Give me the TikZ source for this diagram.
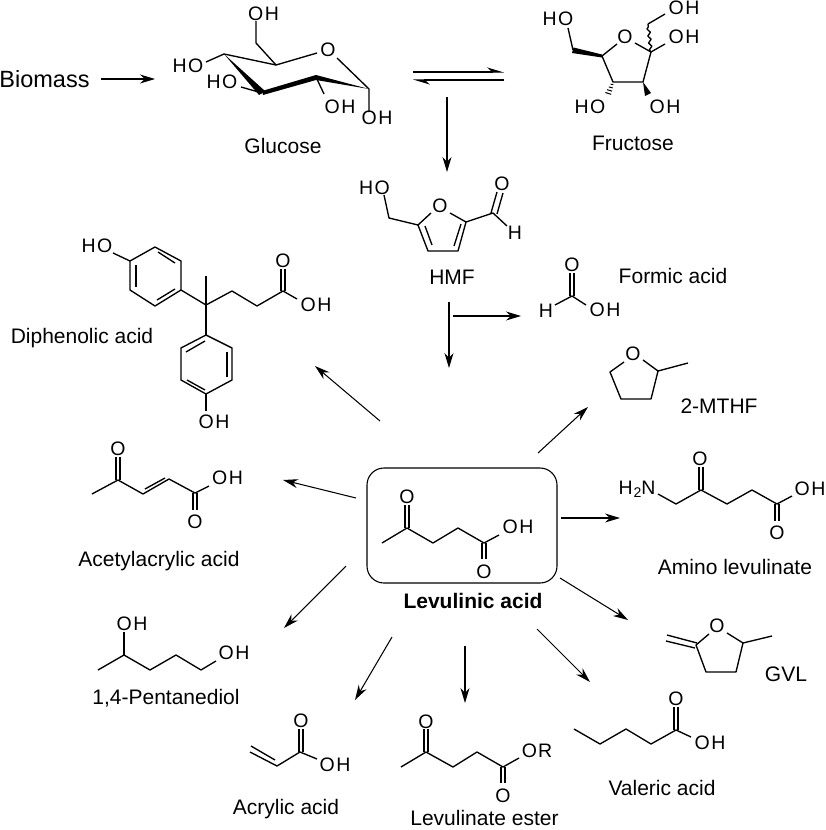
\documentclass[tikz,border=0pt]{standalone}
\usepackage{fontspec}
\setmainfont{Liberation Sans}
\usetikzlibrary{arrows.meta,calc,decorations.pathmorphing}
\newcommand{\OHlab}{O\kern1.5pt H}
\newcommand{\HOlab}{H\kern1.5pt O}
\tikzset{
  bond/.style={line width=1.35pt,line join=round},
  rxn/.style={-{Stealth[length=15pt,width=9pt]},line width=1.05pt},
  eqm/.style={-{Stealth[left,length=15pt,width=9pt]},line width=1.05pt},
  atom/.style={font=\fontsize{19.5}{20}\selectfont,inner sep=0pt},
  title/.style={font=\fontsize{21}{22}\selectfont,inner sep=0pt},
}
\begin{document}
\begin{tikzpicture}[x=1pt,y=-1pt]
  \useasboundingbox (0,0) rectangle (825,830);
  % glucose
  \draw[bond] (256,21) -- (256,43) -- (276,65) -- (317,53);
  \draw[bond] (337,58) -- (369,89) -- (369,112);
  \draw[bond] (206,62) -- (224,54) -- (276,65);
  \draw[bond] (241,87) -- (262,93);
  \draw[bond] (316,77) -- (324,94);
  \fill (224,54) -- (265,91) -- (259,95) -- cycle;
  \fill (262,91) -- (316,75) -- (316,80) -- (263,95) -- cycle;
  \fill (316,75) -- (369,89) -- (316,80) -- cycle;
  \node[atom] (gluO) at (328,50) {O};
  \node[atom] (gluOHa) at (263.5,14) {\OHlab};
  \node[atom] (gluOHb) at (377,118) {\OHlab};
  \node[atom] (gluOHc) at (340,107) {\OHlab};
  \node[atom] (gluHOa) at (188,66) {\HOlab};
  \node[atom] (gluHOb) at (222,82) {\HOlab};
  \node[title] (glucose) at (283,146) {Glucose};
  % fructose
  \draw[bond] (568,28) -- (573,50);
  \fill (602,54.5) -- (573.5,47.5) -- (572,53) -- (602,57.5) -- cycle;
  \draw[bond] (617,44) -- (602,56) -- (613,82) -- (643,82) -- (651,52) -- (635,43);
  \draw[bond] (651,52) -- (665,44);
  \draw[bond,decorate,decoration={snake,amplitude=1.5pt,segment length=7pt}] (651,52) -- (648,24);
  \draw[bond] (648,24) -- (665,14);
  \fill (643,82) -- (651,93) -- (645,96) -- cycle;
  \foreach \t in {0.2,0.45,0.7,0.95} {
    \draw[line width=1pt] ($(613,82)!\t!(608,94)+(-1-2*\t,-1*\t)$) -- ($(613,82)!\t!(608,94)+(1+2*\t,1*\t)$);
  }
  \node[atom] (fruO) at (625,37) {O};
  \node[atom] (fruHOa) at (558,19) {\HOlab};
  \node[atom] (fruHOb) at (590,107) {\HOlab};
  \node[atom] (fruOHa) at (684,8) {\OHlab};
  \node[atom] (fruOHb) at (684,37) {\OHlab};
  \node[atom] (fruOHc) at (665,107) {\OHlab};
  \node[title] (fructose) at (633,143) {Fructose};
  % HMF
  \draw[bond] (384,195) -- (389,218) -- (418,225) -- (431,213);
  \draw[bond] (450,213) -- (466,222) -- (458,251) -- (428,251) -- (418,225);
  \draw[bond] (425,226) -- (432,245);
  \draw[bond] (461,224) -- (454,246);
  \draw[bond] (466,222) -- (493,213) -- (507,226);
  \draw[bond] (491,213) -- (497,192);
  \draw[bond] (497,214) -- (503,193);
  \node[atom] (hmfO) at (440,206) {O};
  \node[atom] (hmfHO) at (374.5,188) {\HOlab};
  \node[atom] (hmfOb) at (502,184) {O};
  \node[atom] (hmfH) at (515,233) {H};
  \node[title] (hmf) at (452,277) {HMF};
  % formic acid
  \draw[bond] (555,305) -- (572,296) -- (586,305);
  \draw[bond] (570,296) -- (570,273);
  \draw[bond] (574,296) -- (574,273);
  \node[atom] (forO) at (572,265) {O};
  \node[atom] (forH) at (546,311) {H};
  \node[atom] (forOH) at (605,310) {\OHlab};
  \node[title] (formic) at (673,276) {Formic acid};
  % diphenolic acid
  \draw[bond] (113,253) -- (130,261) -- (155,247) -- (181,261) -- (181,290) -- (155,306) -- (130,290) -- (130,261);
  \draw[bond] (136,265) -- (136,287);
  \draw[bond] (158,252) -- (175,263);
  \draw[bond] (157,300) -- (175,289);
  \draw[bond] (181,290) -- (206,305) -- (232,291) -- (257,306) -- (283,291) -- (297,299);
  \draw[bond] (206,276) -- (206,335);
  \draw[bond] (281,291) -- (281,269);
  \draw[bond] (285,291) -- (285,269);
  \draw[bond] (206,335) -- (232,348) -- (232,380) -- (206,394) -- (181,380) -- (181,348) -- cycle;
  \draw[bond] (186,352) -- (205,341);
  \draw[bond] (227,352) -- (227,377);
  \draw[bond] (187,380) -- (205,390);
  \draw[bond] (206,394) -- (206,411);
  \node[atom] (dipHO) at (97,246) {\HOlab};
  \node[atom] (dipO) at (283,261) {O};
  \node[atom] (dipOHa) at (316,305) {\OHlab};
  \node[atom] (dipOHb) at (214,422) {\OHlab};
  \node[title] (diphenolic) at (82,338) {Diphenolic acid};
  % levulinic acid
  \draw[line width=1.1pt,rounded corners=17pt] (367,468) rectangle (557,583);
  \draw[bond] (382,543) -- (407,528) -- (433,543) -- (458,528) -- (484,543) -- (499,535);
  \draw[bond] (405,528) -- (405,505);
  \draw[bond] (409,528) -- (409,505);
  \draw[bond] (482,543) -- (482,559);
  \draw[bond] (486,543) -- (486,559);
  \node[atom] (levO) at (407,497) {O};
  \node[atom] (levOb) at (484,572) {O};
  \node[atom] (levOH) at (518,527) {\OHlab};
  \node[title,font=\fontsize{21}{22}\selectfont\bfseries] (levulinic) at (473,601) {Levulinic acid};
  % 2-MTHF
  \draw[bond] (624,362) -- (610,372) -- (621,399) -- (651,399) -- (658,371) -- (643,360);
  \draw[bond] (658,371) -- (688,363);
  \node[atom] (mthO) at (633,354) {O};
  \node[title] (mthf) at (719,406) {2-MTHF};
  % amino levulinate
  \draw[bond] (658,494) -- (676,504) -- (701,490) -- (727,504) -- (752,490) -- (777,504) -- (792,496);
  \draw[bond] (699,490) -- (699,467);
  \draw[bond] (703,490) -- (703,467);
  \draw[bond] (775,504) -- (775,521);
  \draw[bond] (779,504) -- (779,521);
  \node[atom] (amiN) at (637,489) {H\kern1pt\raisebox{-3pt}{\fontsize{14}{14}\selectfont 2}N};
  \node[atom] (amiO) at (700,459) {O};
  \node[atom] (amiOb) at (777,533) {O};
  \node[atom] (amiOH) at (810,489) {\OHlab};
  \node[title] (amino) at (735,567) {Amino levulinate};
  % GVL
  \draw[bond] (709,634) -- (696,645) -- (706,672) -- (736,672) -- (743,643) -- (727,633);
  \draw[bond] (743,643) -- (772,636);
  \draw[bond] (695,648) -- (666,641);
  \draw[bond] (697,643) -- (667,635);
  \node[atom] (gvlO) at (717,626) {O};
  \node[title] (gvl) at (786,674) {GVL};
  % acetylacrylic acid
  \draw[bond] (92,494) -- (118,480) -- (143,494) -- (169,479) -- (195,493) -- (209,486);
  \draw[bond] (116,480) -- (116,457);
  \draw[bond] (120,480) -- (120,457);
  \draw[bond] (145,489) -- (165,478);
  \draw[bond] (193,493) -- (193,510);
  \draw[bond] (197,493) -- (197,510);
  \node[atom] (aceO) at (118,449) {O};
  \node[atom] (aceOb) at (195,522) {O};
  \node[atom] (aceOH) at (227.5,478) {\OHlab};
  \node[title] (acetyl) at (159,561) {Acetylacrylic acid};
  % 1,4-pentanediol
  \draw[bond] (98,670) -- (124,655) -- (150,670) -- (176,655) -- (201,670) -- (216,661);
  \draw[bond] (124,655) -- (124,632);
  \node[atom] (penOHa) at (132,624) {\OHlab};
  \node[atom] (penOHb) at (234,653) {\OHlab};
  \node[title] (pentane) at (166,698) {1,4-Pentanediol};
  % acrylic acid
  \draw[bond] (250,752) -- (277,766) -- (300,752) -- (317,759);
  \draw[bond] (251,746) -- (275,760);
  \draw[bond] (299,752) -- (299,729);
  \draw[bond] (303,752) -- (303,729);
  \node[atom] (acrO) at (301,721) {O};
  \node[atom] (acrOH) at (335,765) {\OHlab};
  \node[title] (acrylic) at (286,809) {Acrylic acid};
  % levulinate ester
  \draw[bond] (401,767) -- (426,752) -- (453,767) -- (477,752) -- (503,767) -- (519,758);
  \draw[bond] (424,752) -- (424,729);
  \draw[bond] (428,752) -- (428,729);
  \draw[bond] (501,767) -- (501,783);
  \draw[bond] (505,767) -- (505,783);
  \node[atom] (estO) at (426,722) {O};
  \node[atom] (estOb) at (503,796) {O};
  \node[atom] (estOR) at (537,751) {O\kern1pt R};
  \node[title] (ester) at (484.5,818) {Levulinate ester};
  % valeric acid
  \draw[bond] (574,729) -- (600,744) -- (626,729) -- (651,744) -- (676,730) -- (691,737);
  \draw[bond] (674,730) -- (674,707);
  \draw[bond] (678,730) -- (678,707);
  \node[atom] (valO) at (676,699) {O};
  \node[atom] (valOH) at (710,743) {\OHlab};
  \node[title] (valeric) at (662,788) {Valeric acid};
  % arrows
  \node[title,font=\fontsize{23.5}{24}\selectfont] (biomass) at (44.5,79) {Biomass};
  \coordinate (bioA) at (101,79);  \coordinate (bioB) at (155,79);
  \coordinate (gluA) at (447,97);  \coordinate (gluB) at (447,172);
  \coordinate (hmfA) at (449,302); \coordinate (hmfB) at (449,368);
  \coordinate (forA) at (453,316); \coordinate (forB) at (521,316);
  \coordinate (dipA) at (380,421); \coordinate (dipB) at (315,366);
  \coordinate (aceA) at (356,498); \coordinate (aceB) at (283,480);
  \coordinate (penA) at (346,566); \coordinate (penB) at (284,628);
  \coordinate (acrA) at (392,637); \coordinate (acrB) at (355,700);
  \coordinate (estA) at (465,646); \coordinate (estB) at (465,703);
  \coordinate (valA) at (537,629); \coordinate (valB) at (590,682);
  \coordinate (gvlA) at (560,578); \coordinate (gvlB) at (628,620);
  \coordinate (amiA) at (561,518); \coordinate (amiB) at (620,518);
  \coordinate (mthA) at (538,453); \coordinate (mthB) at (588,407);
  \coordinate (balA) at (413,72);  \coordinate (balB) at (504,72);
  \coordinate (balC) at (504,80);  \coordinate (balD) at (413,80);
  \foreach \a/\b in {bioA/bioB,gluA/gluB,hmfA/hmfB,forA/forB,dipA/dipB,aceA/aceB,
      penA/penB,acrA/acrB,estA/estB,valA/valB,gvlA/gvlB,amiA/amiB,mthA/mthB} {
    \draw[rxn] (\a) -- (\b);
  }
  \draw[eqm] (balA) -- (balB);
  \draw[eqm] (balC) -- (balD);
\end{tikzpicture}
\end{document}
